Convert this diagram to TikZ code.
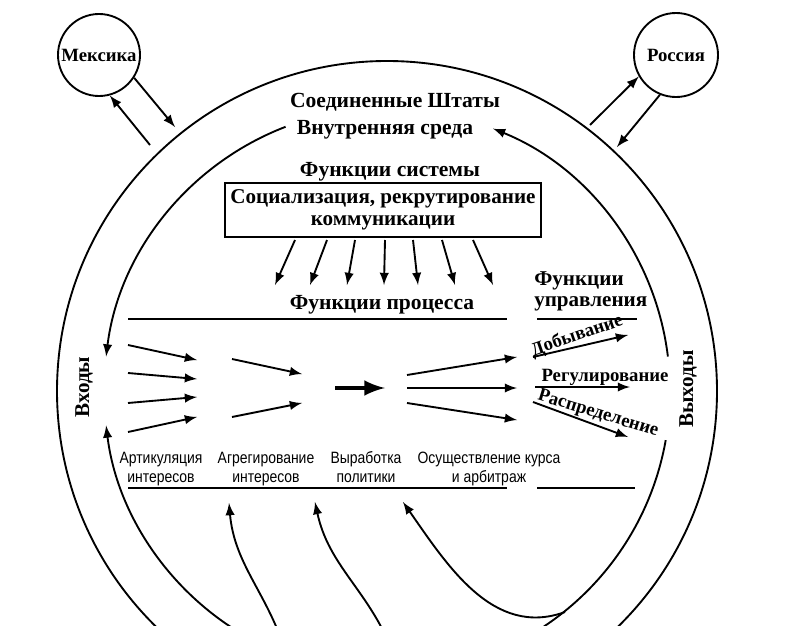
\documentclass[tikz,border=0pt]{standalone}
\usepackage{fontspec}
\setmainfont{Liberation Serif}
\newfontfamily\narrowsf[FakeStretch=0.85]{Liberation Sans}
\usetikzlibrary{arrows}

\begin{document}
\begin{tikzpicture}[>=latex,x=0.15mm,y=0.15mm,thick,inner sep=1pt,
  lbl/.style={font=\bfseries\fontsize{9.2}{10}\selectfont},
  mlbl/.style={font=\bfseries\fontsize{9}{9}\selectfont},
  sml/.style={font=\bfseries\fontsize{8}{9}\selectfont,inner sep=0pt},
  stage/.style={font=\narrowsf\fontsize{7}{8}\selectfont,align=center,anchor=north}]
\useasboundingbox (0,0) rectangle (807,625);
\clip (0,0) rectangle (807,625);
\coordinate (C) at (387,234);
% outer and inner rings
\draw (C) circle[radius=330];
\draw[->] (C) ++(7:283) arc[start angle=7,end angle=68,radius=283];
\draw[->] (C) ++(111:283) arc[start angle=111,end angle=173,radius=283];
\draw[->] (C) ++(240:283) arc[start angle=240,end angle=187,radius=283];
\draw (C) ++(-10:283) arc[start angle=-10,end angle=-62,radius=283];
% neighbours
\node[circle,draw,minimum size=12.3mm,sml] (mex) at (99,570) {Мексика};
\node[circle,draw,minimum size=12.6mm,sml] (rus) at (676,570) {Россия};
\coordinate (mx1) at (175,498); \coordinate (mx2) at (150,480);
\coordinate (ru1) at (590,500); \coordinate (ru2) at (617,478);
\draw[->] (mex.-33) -- (mx1); \draw[->] (mx2) -- (mex.-75);
\draw[->] (ru1) -- (rus.-150); \draw[->] (rus.-112) -- (ru2);
\node[lbl] (usa) at (395,523) {Соединенные Штаты};
\node[lbl] (env) at (385,495) {Внутренняя среда};
\node[lbl] (sysf) at (390,453) {Функции системы};
\node[draw,align=center,font=\bfseries\fontsize{9}{9.5}\selectfont,minimum width=47.5mm,minimum height=8.1mm] (sys) at (383,415) {Социализация, рекрутирование\\коммуникации};
\coordinate (s1) at (295,385); \coordinate (t1) at (275,340);
\coordinate (s2) at (327,385); \coordinate (t2) at (310,340);
\coordinate (s3) at (355,385); \coordinate (t3) at (347,340);
\coordinate (s4) at (385,385); \coordinate (t4) at (384,340);
\coordinate (s5) at (413,385); \coordinate (t5) at (418,340);
\coordinate (s6) at (442,385); \coordinate (t6) at (455,340);
\coordinate (s7) at (473,385); \coordinate (t7) at (493,340);
\draw[->] (s1) -- (t1); \draw[->] (s2) -- (t2); \draw[->] (s3) -- (t3);
\draw[->] (s4) -- (t4); \draw[->] (s5) -- (t5); \draw[->] (s6) -- (t6);
\draw[->] (s7) -- (t7);
% process band
\node[lbl] (proc) at (382,320) {Функции процесса};
\node[mlbl,align=left,anchor=west] (mgmt) at (531,334) {Функции\\управления};
\draw (128,306) -- (507,306) (537,306) -- (637,306);
\draw (128,137) -- (507,137) (537,137) -- (635,137);
\coordinate (a1) at (128,280); \coordinate (aa1) at (197,265);
\coordinate (a2) at (128,252); \coordinate (aa2) at (197,246);
\coordinate (a3) at (128,222); \coordinate (aa3) at (197,228);
\coordinate (a4) at (128,193); \coordinate (aa4) at (197,208);
\draw[->] (a1) -- (aa1); \draw[->] (a2) -- (aa2);
\draw[->] (a3) -- (aa3); \draw[->] (a4) -- (aa4);
\coordinate (g1) at (232,266); \coordinate (gg1) at (302,251);
\coordinate (g2) at (232,208); \coordinate (gg2) at (302,222);
\draw[->] (g1) -- (gg1); \draw[->] (g2) -- (gg2);
\coordinate (k1) at (335,237); \coordinate (k2) at (385,237);
\draw[->,line width=2pt] (k1) -- (k2);
\coordinate (c0) at (407,250); \coordinate (cc0) at (517,268);
\coordinate (c1) at (407,237); \coordinate (cc1) at (517,237);
\coordinate (c2) at (407,222); \coordinate (cc2) at (517,205);
\draw[->] (c0) -- (cc0); \draw[->] (c1) -- (cc1); \draw[->] (c2) -- (cc2);
% outputs
\coordinate (d1) at (533,268); \coordinate (d2) at (628,290);
\coordinate (r1) at (535,238); \coordinate (r2) at (630,238);
\coordinate (p1) at (533,223); \coordinate (p2) at (628,188);
\draw[->] (d1) -- (d2); \draw[->] (r1) -- (r2); \draw[->] (p1) -- (p2);
\node[sml,rotate=19] (dob) at (577,289) {Добывание};
\node[sml] (reg) at (605,248) {Регулирование};
\node[sml,rotate=-17] (ras) at (598,211) {Распределение};
\node[stage] (art) at (161,178) {Артикуляция\strut\\интересов\strut};
\node[stage] (agg) at (266,178) {Агрегирование\strut\\интересов\strut};
\node[stage] (pol) at (366,178) {Выработка\strut\\политики\strut};
\node[stage] (exe) at (489,178) {Осуществление курса\strut\\и арбитраж\strut};
\node[mlbl,rotate=90] (inp) at (84,238) {Входы};
\node[mlbl,rotate=90] (outp) at (688,236) {Выходы};
% feedback
\coordinate (b1) at (285,-25); \coordinate (h1) at (229,122);
\coordinate (b2) at (392,-25); \coordinate (h2) at (315,123);
\coordinate (j) at (565,13); \coordinate (h3) at (403,123);
\draw[->] (b1) to[out=108,in=-85] (h1);
\draw[->] (b2) to[out=112,in=-78] (h2);
\draw[->] (j) to[out=200,in=-55] (h3);
\end{tikzpicture}
\end{document}
